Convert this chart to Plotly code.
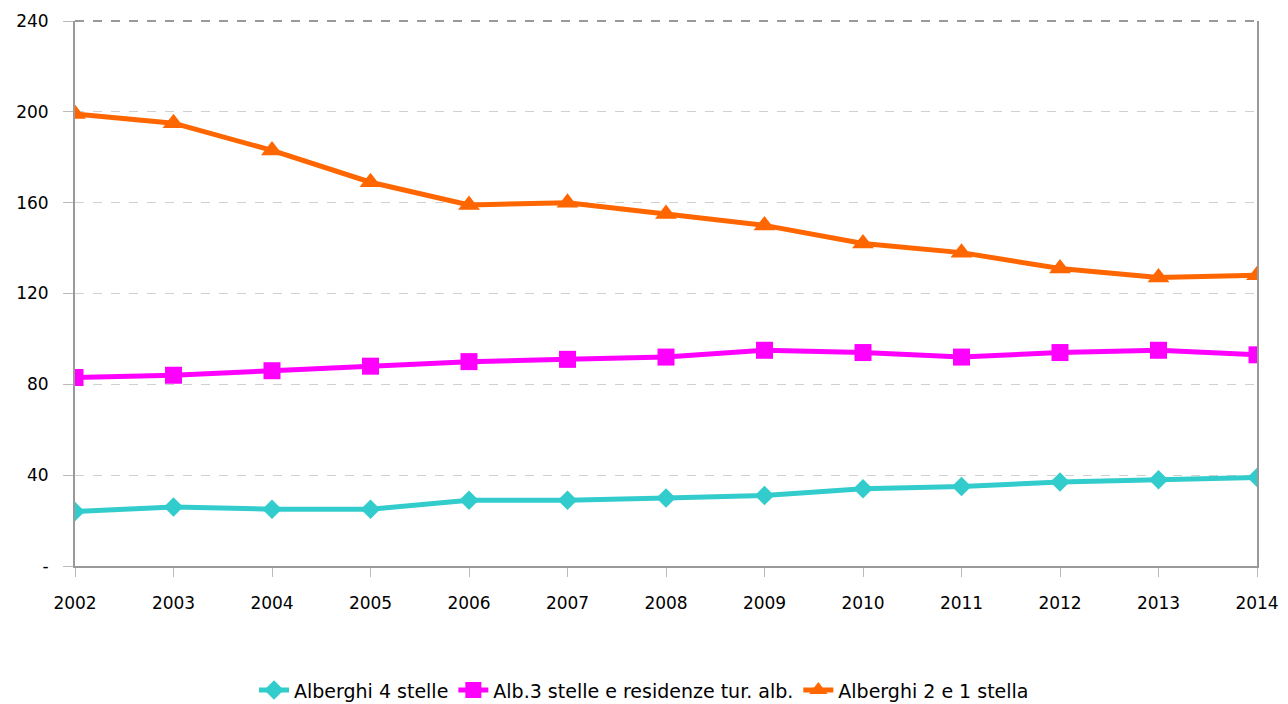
import plotly.graph_objects as go

years = [2002, 2003, 2004, 2005, 2006, 2007, 2008, 2009, 2010, 2011, 2012, 2013, 2014]
alb4 = [24, 26, 25, 25, 29, 29, 30, 31, 34, 35, 37, 38, 39]
alb3 = [83, 84, 86, 88, 90, 91, 92, 95, 94, 92, 94, 95, 93]
alb21 = [199, 195, 183, 169, 159, 160, 155, 150, 142, 138, 131, 127, 128]
names = ["Alberghi 4 stelle", "Alb.3 stelle e residenze tur. alb.", "Alberghi 2 e 1 stella"]
ytickvals = [0, 40, 80, 120, 160, 200, 240]
yticktext = ["-", "40", "80", "120", "160", "200", "240"]

font = "DejaVu Sans"
fig = go.Figure()
fig.add_trace(go.Scatter(x=years, y=alb4, name=names[0], mode="lines+markers",
                         line=dict(color="#33CCCC", width=5),
                         marker=dict(symbol="diamond", size=15, color="#33CCCC")))
fig.add_trace(go.Scatter(x=years, y=alb3, name=names[1], mode="lines+markers",
                         line=dict(color="#FF00FF", width=5),
                         marker=dict(symbol="square", size=17, color="#FF00FF")))
fig.add_trace(go.Scatter(x=years, y=alb21, name=names[2], mode="lines+markers",
                         line=dict(color="#FF6600", width=5),
                         marker=dict(symbol="triangle-up", size=19, color="#FF6600")))

fig.update_layout(
    width=1288, height=704,
    margin=dict(l=75, r=31, t=21, b=138, autoexpand=False),
    paper_bgcolor="white", plot_bgcolor="white",
    font=dict(family=font, size=17, color="black"),
    showlegend=True,
    legend=dict(orientation="h", xref="container", x=0.5, xanchor="center",
                y=-0.228, yanchor="middle", font=dict(size=19), traceorder="normal"),
)
fig.update_xaxes(range=[2002, 2014], tickvals=years, ticktext=[str(y) for y in years],
                 showgrid=False, showline=True, linecolor="#999999", linewidth=2,
                 ticks="outside", ticklen=9, tickcolor="#BBBBBB", zeroline=False,
                 automargin=False, ticklabelstandoff=12)
fig.update_yaxes(range=[0, 240], tickvals=ytickvals, ticktext=yticktext,
                 showgrid=True, gridcolor="#D0D0D0", griddash="dash", gridwidth=1,
                 showline=True, mirror=True, linecolor="#999999", linewidth=2,
                 ticks="outside", ticklen=10, tickcolor="#BBBBBB", zeroline=False,
                 automargin=False, ticklabelstandoff=11)
fig.add_shape(type="line", xref="paper", yref="paper", x0=0, x1=1, y0=1, y1=1,
              line=dict(color="#999999", width=2, dash="dash"))
fig.write_html("out.html", config={"displayModeBar": False},
               post_script="document.body.style.margin='0';")
